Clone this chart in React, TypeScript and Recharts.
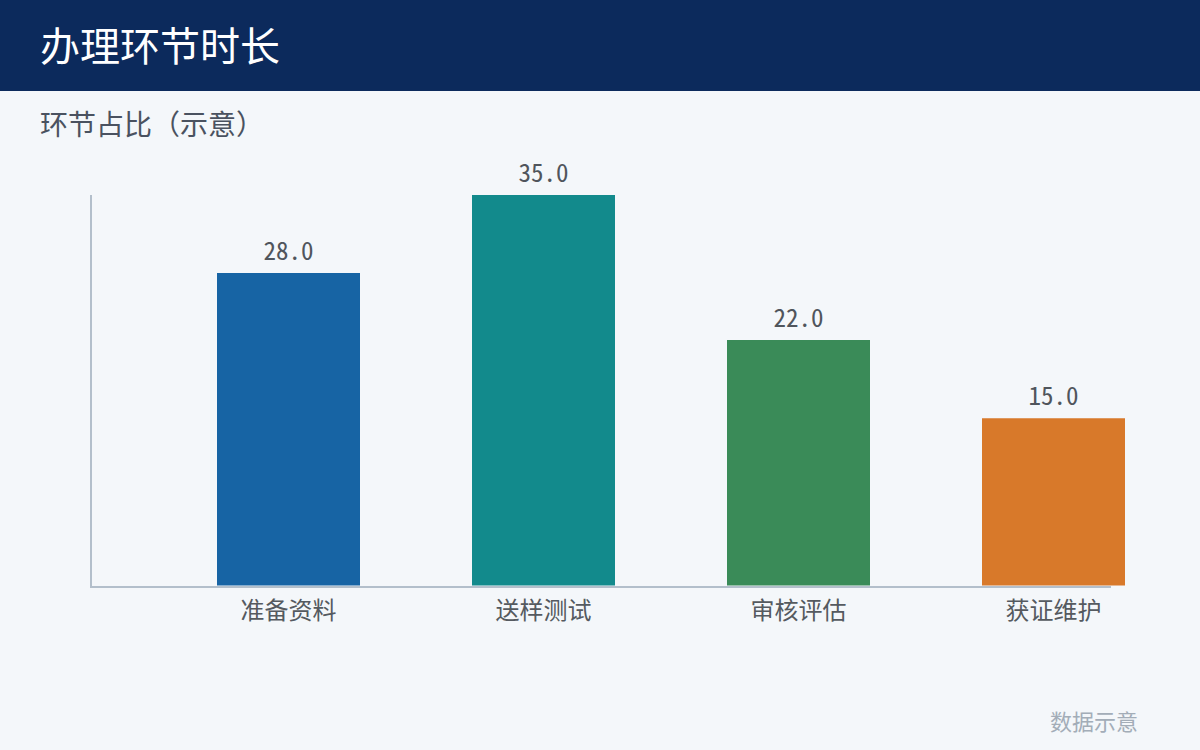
import React from "react";
import { BarChart, Bar, XAxis, YAxis, LabelList, Cell } from "recharts";

const categories = ["准备资料", "送样测试", "审核评估", "获证维护"];
const values = [28.0, 35.0, 22.0, 15.0];
const barColors = ["#1764a4", "#128a8c", "#3a8b58", "#d8792a"];

const data = categories.map((name, i) => ({ name, value: values[i] }));

const CJK = '"Noto Sans CJK SC", "Noto Sans", sans-serif';
const MONO = '"Noto Sans Mono CJK SC", "DejaVu Sans Mono", monospace';

export default function App() {
  return (
    <div
      style={{
        position: "absolute",
        left: 0,
        top: 0,
        width: 1200,
        height: 750,
        background: "#f4f7fa",
        fontFamily: CJK,
        overflow: "hidden",
      }}
    >
      <div
        style={{
          position: "absolute",
          left: 0,
          top: 0,
          width: 1200,
          height: 91,
          background: "#0c2a5c",
        }}
      />
      <div
        style={{
          position: "absolute",
          left: 40,
          top: 24,
          fontSize: 40,
          lineHeight: "40px",
          color: "#ffffff",
          whiteSpace: "nowrap",
        }}
      >
        办理环节时长
      </div>
      <div
        style={{
          position: "absolute",
          left: 40,
          top: 109,
          fontSize: 28,
          lineHeight: "28px",
          color: "#4a5260",
          whiteSpace: "nowrap",
        }}
      >
        环节占比（示意）
      </div>
      {/* axis lines */}
      <div
        style={{
          position: "absolute",
          left: 90,
          top: 195,
          width: 2,
          height: 392,
          background: "#b3bfcb",
        }}
      />
      <div
        style={{
          position: "absolute",
          left: 90,
          top: 585.5,
          width: 1021,
          height: 2,
          background: "#b3bfcb",
        }}
      />
      <div style={{ position: "absolute", left: 0, top: 0 }}>
        <BarChart
          width={1200}
          height={750}
          data={data}
          margin={{ top: 195, right: 19, left: 161, bottom: 134.5 }}
        >
          <XAxis
            dataKey="name"
            axisLine={false}
            tickLine={false}
            tickSize={0}
            tickMargin={16}
            height={30}
            tick={{ fontSize: 24, fill: "#555a60", fontFamily: CJK }}
          />
          <YAxis hide domain={[0, 35]} />
          <Bar dataKey="value" barSize={143} isAnimationActive={false}>
            {data.map((d, i) => (
              <Cell key={d.name} fill={barColors[i]} />
            ))}
            <LabelList
              dataKey="value"
              position="top"
              offset={13}
              formatter={(v: number) => Number(v).toFixed(1)}
              style={{ fontSize: 25, fill: "#50555c", fontFamily: MONO }}
            />
          </Bar>
        </BarChart>
      </div>
      <div
        style={{
          position: "absolute",
          right: 62,
          top: 709,
          fontSize: 22,
          lineHeight: "22px",
          color: "#a3adb8",
          whiteSpace: "nowrap",
        }}
      >
        数据示意
      </div>
    </div>
  );
}
